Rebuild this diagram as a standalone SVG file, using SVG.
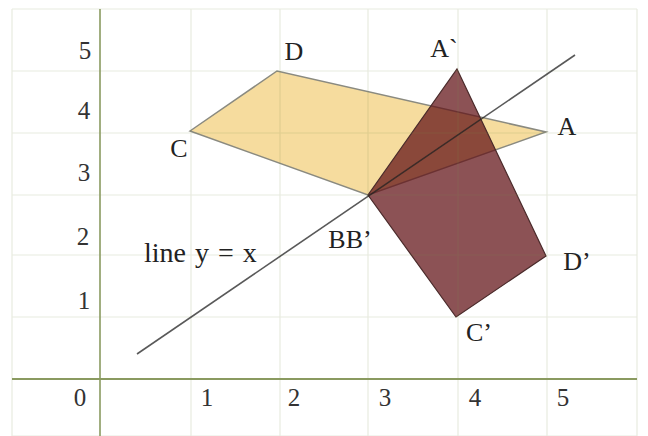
<svg xmlns="http://www.w3.org/2000/svg" width="648" height="436" viewBox="0 0 648 436">
<style>
.grid{stroke:#7f8f50;stroke-opacity:0.18;stroke-width:1.2;fill:none}
.axis{stroke:#8a9a60;stroke-width:2;fill:none}
.lbl{font-family:"Liberation Serif",serif;font-size:26px;fill:#222;text-anchor:middle}
.num{font-family:"Liberation Serif",serif;font-size:25px;fill:#333;text-anchor:middle}
</style>
<rect x="0" y="0" width="648" height="436" fill="#ffffff"/>
<g id="orig">
<polygon points="190,131 277,71 546,132 368,195" fill="#f6dc9e" stroke="#8a8a80" stroke-width="1.5"/>
</g>
<g id="image">
<polygon points="457,69 546,256 456,317 368,195" fill="#5f0f14" fill-opacity="0.72" stroke="#4a2a2a" stroke-width="1.2"/>
</g>
<g id="grid">
<path class="grid" d="M12,9H637M12,71H637M12,133H637M12,195H637M12,255H637M12,317H637M12,436H637M12,9V436M191,9V436M280,9V436M368,9V436M458,9V436M547,9V436M637,9V436"/>
<path class="axis" d="M12,379H637"/>
<path class="axis" d="M100,9V436" stroke-opacity="0.8"/>
</g>
<g id="connectors">
<line x1="137" y1="354" x2="575" y2="55" stroke="#222" stroke-opacity="0.75" stroke-width="1.6"/>
</g>
<g id="labels">
<text class="lbl" x="294" y="60">D</text>
<text class="lbl" x="179" y="157">C</text>
<text class="lbl" x="567" y="135">A</text>
<text class="lbl" x="444" y="57">A`</text>
<text class="lbl" x="350" y="248">BB’</text>
<text class="lbl" x="577" y="270">D’</text>
<text class="lbl" x="479" y="341">C’</text>
<text class="lbl" x="144" y="262" style="text-anchor:start;font-size:28px;word-spacing:2px">line y = x</text>
</g>
<g id="ticks">
<text class="num" x="85" y="59">5</text>
<text class="num" x="84" y="119">4</text>
<text class="num" x="84" y="181">3</text>
<text class="num" x="83" y="245">2</text>
<text class="num" x="84" y="309">1</text>
<text class="num" x="80" y="406">0</text>
<text class="num" x="207" y="406">1</text>
<text class="num" x="294" y="406">2</text>
<text class="num" x="385" y="406">3</text>
<text class="num" x="475" y="406">4</text>
<text class="num" x="563" y="406">5</text>
</g>
</svg>
